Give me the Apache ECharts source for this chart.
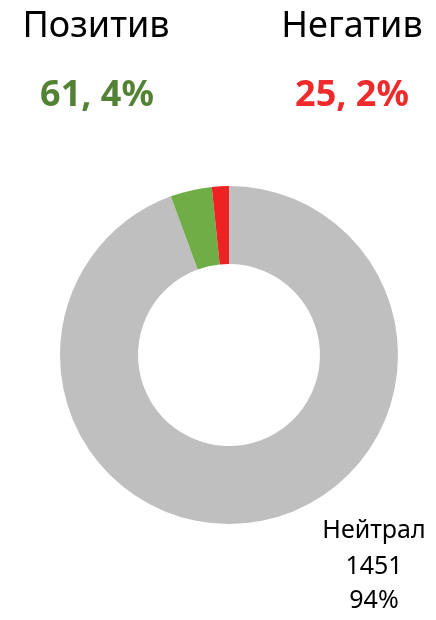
<!DOCTYPE html>
<html><head><meta charset="utf-8">
<script src="https://cdn.jsdelivr.net/npm/echarts@6/dist/echarts.min.js"></script>
<style>html,body{margin:0;padding:0;background:#fff}#c{width:436px;height:620px}</style>
</head><body><div id="c"></div>
<script>
const categories = ['Нейтрал', 'Позитив', 'Негатив'];
const values = [1451, 61, 25];
const sliceColors = ['#bfbfbf', '#70ad47', '#ee2222'];
const headColors = ['#000000', '#548235', '#ee2a2a'];

const total = values.reduce((a, b) => a + b, 0);
const pct = v => Math.round(v / total * 100);
const font = '"Noto Sans", "Open Sans", sans-serif';

const chart = echarts.init(document.getElementById('c'));
chart.setOption({
  animation: false,
  series: [{
    type: 'pie',
    center: [229, 355],
    radius: [91, 169],
    startAngle: 90,
    clockwise: true,
    label: { show: false },
    labelLine: { show: false },
    emphasis: { disabled: true },
    itemStyle: { borderWidth: 0 },
    data: categories.map((c, i) => ({ name: c, value: values[i], itemStyle: { color: sliceColors[i] } }))
  }],
  graphic: [
    { type: 'text', x: 96, y: 27, style: { text: categories[1], font: '36px ' + font, fill: '#000', align: 'center', verticalAlign: 'middle' } },
    { type: 'text', x: 352, y: 27, style: { text: categories[2], font: '36px ' + font, fill: '#000', align: 'center', verticalAlign: 'middle' } },
    { type: 'text', x: 97, y: 96, style: { text: values[1] + ', ' + pct(values[1]) + '%', font: 'bold 36px ' + font, fill: headColors[1], align: 'center', verticalAlign: 'middle' } },
    { type: 'text', x: 352, y: 96, style: { text: values[2] + ', ' + pct(values[2]) + '%', font: 'bold 36px ' + font, fill: headColors[2], align: 'center', verticalAlign: 'middle' } },
    { type: 'text', x: 374, y: 531, style: { text: categories[0], font: '25px ' + font, fill: '#000', align: 'center', verticalAlign: 'middle' } },
    { type: 'text', x: 374, y: 567, style: { text: String(values[0]), font: '25px ' + font, fill: '#000', align: 'center', verticalAlign: 'middle' } },
    { type: 'text', x: 374, y: 601, style: { text: pct(values[0]) + '%', font: '25px ' + font, fill: '#000', align: 'center', verticalAlign: 'middle' } }
  ]
});
</script></body></html>
